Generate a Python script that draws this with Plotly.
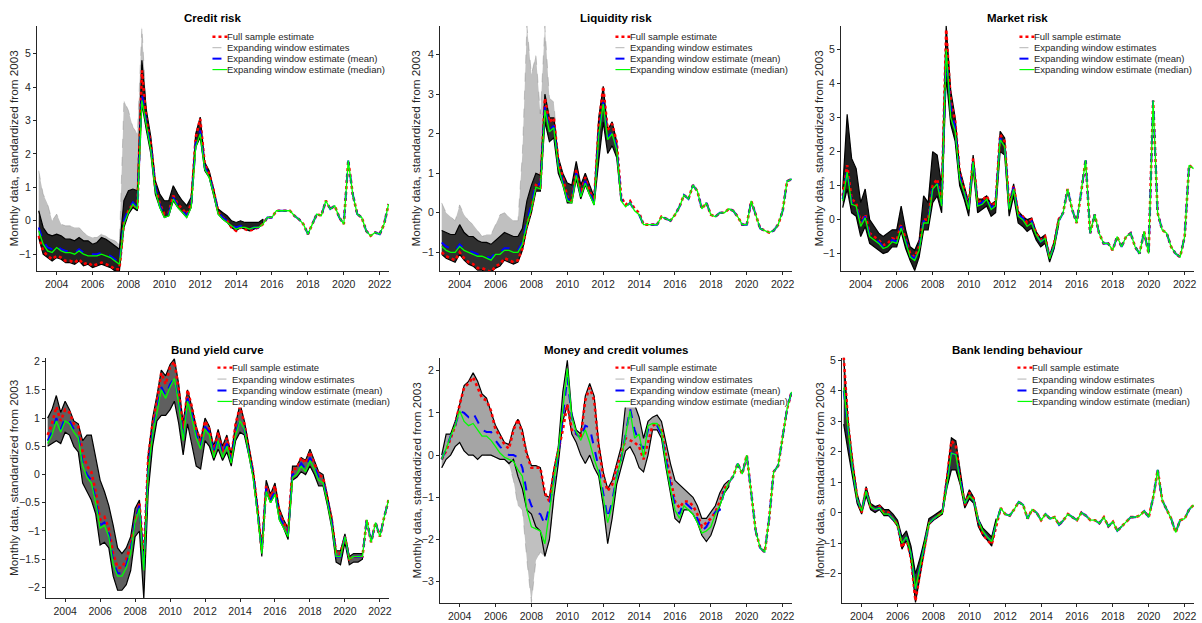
import pandas as pd
import plotly.graph_objects as go
from plotly.subplots import make_subplots

# quarterly observation dates, Jan 2003 .. Jul 2022
dates = list(pd.date_range("2003-01-01", "2022-07-01", freq="QS").strftime("%Y-%m-%d"))

titles = ["Credit risk", "Liquidity risk", "Market risk",
          "Bund yield curve", "Money and credit volumes", "Bank lending behaviour"]
year_ticks = ["%d-01-01" % y for y in range(2004, 2023, 2)]
year_labels = [str(y) for y in range(2004, 2023, 2)]
legend_labels = ["Full sample estimate", "Expanding window estimates",
                 "Expanding window estimate (mean)", "Expanding window estimate (median)"]

# ---------------- Credit risk ----------------
credit_full = [-0.45, -0.9, -1.05, -1.15, -1.05, -1.1, -1.2, -1.2, -1.25, -1.15, -1.3, -1.25,
               -1.35, -1.3, -1.25, -1.3, -1.35, -1.45, -1.45, -0.05, 0.3, 0.5, 0.35, 4.5,
               3.0, 2.3, 1.0, 0.5, 0.2, 0.25, 0.75, 0.5, 0.35, 0.2, 0.5, 2.5,
               3.05, 1.7, 1.4, 0.9, 0.25, 0.1, 0.0, -0.2, -0.3, -0.2, -0.25, -0.3,
               -0.25, -0.2, -0.1, 0.1, 0.1, 0.3, 0.3, 0.3, 0.3, 0.15, 0.05, -0.1,
               -0.4, -0.1, 0.2, 0.15, 0.6, 0.35, 0.45, 0.1, -0.1, 1.8, 0.8, 0.2,
               0.1, -0.3, -0.45, -0.35, -0.4, -0.1, 0.5]
credit_mean = [-0.2, -0.6, -0.8, -0.85, -0.75, -0.85, -0.9, -0.9, -0.95, -0.85, -0.95, -1.0,
               -1.0, -1.0, -0.95, -1.0, -1.05, -1.15, -1.25, 0.0, 0.35, 0.55, 0.4, 3.8,
               2.9, 2.2, 1.0, 0.45, 0.15, 0.2, 0.7, 0.45, 0.3, 0.15, 0.45, 2.3,
               2.7, 1.6, 1.35, 0.85, 0.25, 0.1, 0.0, -0.15, -0.2, -0.15, -0.2, -0.25,
               -0.2] + credit_full[49:]
credit_median = [-0.3, -0.7, -0.9, -0.95, -0.8, -0.9, -0.95, -0.95, -1.0, -0.9, -1.0, -1.05,
                 -1.05, -1.05, -1.0, -1.05, -1.1, -1.2, -1.3, -0.1, 0.25, 0.5, 0.35, 3.6,
                 2.8, 2.1, 0.9, 0.4, 0.1, 0.15, 0.65, 0.4, 0.25, 0.1, 0.4, 2.2,
                 2.6, 1.55, 1.3, 0.8, 0.2, 0.05, -0.05, -0.15, -0.25, -0.2, -0.2, -0.25,
                 -0.2] + credit_full[49:]
credit_lo = [-0.5, -1.0, -1.1, -1.2, -1.1, -1.15, -1.25, -1.25, -1.3, -1.2, -1.35, -1.3,
             -1.4, -1.35, -1.3, -1.35, -1.4, -1.5, -1.5, -0.2, 0.2, 0.4, 0.3, 3.5,
             2.7, 2.0, 0.8, 0.4, 0.1, 0.15, 0.6, 0.4, 0.25, 0.1, 0.4, 2.2,
             2.5, 1.5, 1.3, 0.8, 0.2, 0.05, -0.05, -0.2, -0.3, -0.2, -0.25, -0.3,
             -0.25, -0.2, -0.1]
credit_hi = [0.3, -0.2, -0.4, -0.45, -0.4, -0.45, -0.55, -0.55, -0.6, -0.5, -0.6, -0.6,
             -0.7, -0.65, -0.5, -0.55, -0.65, -0.75, -0.85, 0.6, 0.9, 0.95, 0.9, 4.8,
             3.3, 2.5, 1.2, 0.8, 0.6, 0.6, 1.05, 0.8, 0.6, 0.45, 0.7, 2.6,
             3.1, 1.75, 1.5, 0.95, 0.35, 0.25, 0.15, 0.0, -0.05, 0.0, -0.05, -0.05,
             -0.05, -0.05, 0.05]
credit_spread_hi = [1.5, 0.8, 0.5, 0.0, 0.2, -0.1, -0.15, -0.15, -0.2, -0.2, -0.35, -0.45,
                    -0.5, -0.5, -0.4, -0.45, -0.55, -0.6, -0.7, 3.6, 3.3, 2.8, 2.6, 5.8,
                    3.3]
credit_spread_lo = None

# ---------------- Liquidity risk ----------------
liq_full = [-1.0, -1.1, -1.15, -1.2, -1.0, -1.15, -1.25, -1.3, -1.4, -1.4, -1.45, -1.5,
            -1.35, -1.3, -1.15, -1.2, -1.25, -1.2, -0.9, -0.3, 0.1, 0.7, 0.65, 2.9,
            2.3, 2.4, 1.3, 0.9, 0.4, 0.3, 1.1, 0.5, 0.9, 0.55, 0.3, 2.2,
            3.2, 2.1, 2.25, 1.8, 0.4, 0.2, 0.3, 0.1, 0.0, -0.3, -0.3, -0.3,
            -0.3, -0.1, -0.15, -0.2, -0.05, 0.15, 0.45, 0.35, 0.7, 0.55, 0.1, 0.25,
            -0.05, -0.1, 0.0, 0.0, 0.1, 0.05, -0.1, -0.3, -0.3, 0.3, -0.05, -0.4,
            -0.45, -0.5, -0.45, -0.3, 0.05, 0.8, 0.85]
liq_mean = [-0.75, -0.85, -0.9, -0.95, -0.8, -0.9, -0.95, -1.0, -1.05, -1.05, -1.1, -1.15,
            -1.0, -1.0, -0.9, -0.9, -0.95, -0.95, -0.75, -0.2, 0.2, 0.75, 0.7, 2.7,
            2.1, 2.2, 1.2, 0.8, 0.35, 0.3, 1.0, 0.45, 0.8, 0.5, 0.25, 2.0,
            2.8, 1.9, 2.05, 1.65, 0.35, 0.15, 0.25, 0.05, -0.05] + liq_full[45:]
liq_median = [-0.85, -0.95, -1.0, -1.0, -0.85, -0.95, -1.0, -1.05, -1.1, -1.1, -1.15, -1.2,
              -1.05, -1.05, -0.95, -0.95, -1.0, -1.0, -0.8, -0.3, 0.1, 0.65, 0.6, 2.6,
              2.05, 2.15, 1.15, 0.75, 0.3, 0.25, 0.95, 0.4, 0.75, 0.45, 0.2, 1.95,
              2.75, 1.85, 2.0, 1.6, 0.3, 0.15, 0.25, 0.05, -0.05] + liq_full[45:]
liq_lo = [-1.05, -1.15, -1.2, -1.25, -1.05, -1.2, -1.3, -1.35, -1.45, -1.45, -1.5, -1.5,
          -1.4, -1.35, -1.2, -1.25, -1.3, -1.25, -0.95, -0.4, 0.0, 0.55, 0.55, 2.3,
          1.8, 1.9, 1.0, 0.7, 0.25, 0.25, 0.85, 0.35, 0.7, 0.45, 0.2, 1.3,
          2.3, 1.5, 1.7, 1.4, 0.3]
liq_hi = [-0.45, -0.5, -0.55, -0.55, -0.3, -0.5, -0.6, -0.6, -0.7, -0.75, -0.75, -0.8,
          -0.7, -0.6, -0.5, -0.55, -0.6, -0.6, -0.4, 0.3, 0.7, 1.0, 0.95, 3.0,
          2.4, 2.4, 1.4, 1.0, 0.75, 0.7, 1.3, 0.7, 1.0, 0.7, 0.4, 2.4,
          3.2, 2.1, 2.3, 1.8, 0.4]
liq_spread_hi = [0.25, 0.0, -0.1, -0.2, 0.2, -0.05, -0.2, -0.3, -0.45, -0.6, -0.55, -0.55,
                 -0.3, -0.05, 0.0, -0.1, -0.2, -0.2, 1.5, 4.73, 3.5, 4.0, 2.5, 4.73,
                 2.9, 2.8, 1.5]
liq_spread_lo = None

# ---------------- Market risk ----------------
mkt_full = [0.7, 1.6, 0.6, 0.5, -0.1, 0.15, -0.4, -0.5, -0.6, -0.75, -0.7, -0.55,
            -0.6, -0.15, -0.6, -1.0, -1.1, -0.8, 0.0, 0.0, 1.0, 1.2, 0.5, 5.6,
            3.5, 2.9, 1.4, 0.9, 0.4, 1.8, 0.5, 0.55, 0.7, 0.4, 0.5, 2.5,
            2.3, 0.4, 1.0, 0.2, 0.1, -0.1, 0.0, -0.4, -0.6, -0.5, -1.1, -0.7,
            0.0, 0.2, 0.9, 0.3, -0.1, 0.8, 1.75, -0.4, 0.15, -0.4, -0.7, -0.7,
            -0.9, -0.5, -0.8, -0.5, -0.4, -0.8, -1.0, -0.35, -1.0, 3.5, 0.2, -0.3,
            -0.4, -0.8, -1.0, -1.1, -0.5, 1.6, 1.5]
mkt_mean = [0.6, 1.45, 0.5, 0.45, -0.15, 0.1, -0.45, -0.55, -0.65, -0.8, -0.75, -0.6,
            -0.65, -0.2, -0.65, -1.05, -1.15, -0.85, -0.05, -0.05, 0.95, 1.1, 0.45, 4.8,
            3.3, 2.7, 1.3, 0.85, 0.35, 1.75, 0.45, 0.5, 0.65, 0.35, 0.45, 2.4,
            2.2, 0.35, 0.95, 0.15, 0.05, -0.15, -0.05, -0.45, -0.65, -0.55, -1.15, -0.75,
            -0.05] + mkt_full[49:]
mkt_median = [0.55, 1.4, 0.45, 0.4, -0.2, 0.05, -0.5, -0.6, -0.7, -0.85, -0.8, -0.65,
              -0.7, -0.25, -0.7, -1.1, -1.2, -0.9, -0.1, -0.1, 0.9, 1.05, 0.4, 5.0,
              3.0, 2.6, 1.2, 0.8, 0.3, 1.7, 0.4, 0.45, 0.6, 0.3, 0.4, 2.35,
              2.15, 0.3, 0.9, 0.1, 0.0, -0.2, -0.1, -0.45, -0.65, -0.55, -1.15, -0.75,
              -0.05] + mkt_full[49:]
mkt_lo = [0.35, 0.9, 0.2, 0.1, -0.5, -0.2, -0.7, -0.8, -0.9, -1.0, -0.95, -0.8,
          -0.8, -0.35, -0.85, -1.2, -1.5, -1.1, -0.3, -0.3, 0.5, 0.7, 0.2, 4.2,
          2.8, 2.3, 1.0, 0.6, 0.1, 1.5, 0.2, 0.3, 0.4, 0.1, 0.2, 2.0,
          1.9, 0.1, 0.7, -0.1, -0.2, -0.35, -0.25, -0.6, -0.8, -0.7, -1.25, -0.85,
          -0.15]
mkt_hi = [0.9, 3.1, 1.8, 1.5, 0.5, 0.9, 0.0, -0.2, -0.4, -0.5, -0.4, -0.3,
          -0.3, 0.4, -0.3, -0.8, -0.9, -0.6, 0.7, 0.5, 2.0, 1.9, 1.0, 5.7,
          3.8, 3.0, 1.5, 1.0, 0.5, 1.9, 0.6, 0.6, 0.7, 0.45, 0.55, 2.6,
          2.4, 0.45, 1.05, 0.25, 0.1, 0.0, 0.05, -0.35, -0.55, -0.45, -1.05, -0.65,
          0.05]
mkt_spread_hi = None
mkt_spread_lo = None

# ---------------- Bund yield curve ----------------
bund_full = [0.7, 0.9, 1.2, 0.95, 1.15, 1.1, 0.9, 0.85, 0.4, 0.15, 0.05, -0.3,
             -0.8, -0.75, -0.95, -1.4, -1.65, -1.65, -1.5, -1.25, -0.85, -0.5, -1.5, 0.3,
             0.9, 1.3, 1.8, 1.6, 1.9, 2.0, 1.5, 0.8, 1.5, 1.2, 0.8, 0.6,
             0.95, 0.8, 0.4, 0.75, 0.4, 0.65, 0.3, 0.9, 1.2, 0.9, 0.45, 0.05,
             -0.6, -1.35, -0.2, -0.4, -0.2, -0.65, -0.85, -1.0, 0.1, 0.1, 0.3, 0.2,
             0.4, 0.2, 0.0, -0.05, -0.4, -0.8, -1.4, -1.4, -1.1, -1.5, -1.45, -1.45,
             -1.45, -0.8, -1.2, -0.85, -1.1, -0.75, -0.45]
bund_mean = [0.6, 0.75, 1.0, 0.8, 1.0, 0.95, 0.8, 0.7, 0.2, 0.0, -0.1, -0.45,
             -0.9, -0.85, -1.05, -1.55, -1.75, -1.75, -1.6, -1.35, -0.8, -0.55, -1.65, 0.1,
             0.75, 1.15, 1.55, 1.4, 1.6, 1.7, 1.3, 0.65, 1.35, 1.05, 0.7, 0.5,
             0.85, 0.75, 0.35, 0.65, 0.35, 0.55, 0.25, 0.75, 0.95, 0.8, 0.4, 0.0,
             -0.65, -1.35, -0.25, -0.45, -0.3, -0.75, -0.9, -1.05, 0.0, 0.05, 0.2, 0.1,
             0.3, 0.15, -0.05, -0.1, -0.45, -0.85, -1.45, -1.45, -1.1, -1.5, -1.45, -1.45,
             -1.45] + bund_full[73:]
bund_median = [0.55, 0.7, 0.95, 0.75, 0.95, 0.9, 0.75, 0.65, 0.15, -0.05, -0.15, -0.5,
               -0.95, -0.9, -1.1, -1.6, -1.8, -1.8, -1.65, -1.4, -0.85, -0.6, -1.7, 0.05,
               0.7, 1.1, 1.5, 1.35, 1.55, 1.7, 1.25, 0.6, 1.3, 1.0, 0.65, 0.45,
               0.8, 0.7, 0.3, 0.6, 0.3, 0.5, 0.2, 0.7, 0.95, 0.8, 0.35, -0.05,
               -0.7, -1.4, -0.3, -0.5, -0.35, -0.8, -0.95, -1.1, -0.05, 0.0, 0.15, 0.05,
               0.25, 0.1, -0.1, -0.15, -0.5, -0.9, -1.45, -1.45, -1.1, -1.5, -1.45, -1.45,
               -1.45] + bund_full[73:]
bund_lo = [0.5, 0.55, 0.6, 0.55, 0.75, 0.7, 0.5, 0.4, -0.15, -0.3, -0.45, -0.7,
           -1.25, -1.2, -1.3, -1.8, -2.05, -2.05, -1.95, -1.7, -1.1, -1.0, -2.2, -0.3,
           0.5, 0.95, 1.05, 1.05, 1.15, 1.3, 0.9, 0.35, 0.9, 0.5, 0.15, 0.1,
           0.6, 0.5, 0.25, 0.45, 0.25, 0.4, 0.15, 0.6, 0.75, 0.7, 0.35, -0.05,
           -0.7, -1.45, -0.3, -0.5, -0.35, -0.8, -0.95, -1.15, -0.1, -0.05, 0.05, 0.0,
           0.15, 0.0, -0.2, -0.2, -0.55, -0.95, -1.55, -1.6, -1.2, -1.6, -1.55, -1.55,
           -1.5]
bund_hi = [1.0, 1.15, 1.4, 1.1, 1.3, 1.15, 0.95, 0.9, 0.6, 0.7, 0.7, 0.3,
           -0.1, -0.3, -0.55, -0.9, -1.3, -1.4, -1.3, -1.1, -0.6, -0.45, -1.5, 0.35,
           1.0, 1.4, 1.85, 1.75, 1.95, 2.05, 1.6, 0.9, 1.5, 1.2, 0.85, 0.6,
           1.0, 0.85, 0.5, 0.8, 0.5, 0.7, 0.35, 0.9, 1.25, 0.95, 0.5, 0.1,
           -0.55, -1.3, -0.1, -0.35, -0.15, -0.6, -0.8, -0.95, 0.15, 0.15, 0.3, 0.25,
           0.45, 0.25, 0.05, 0.0, -0.35, -0.75, -1.35, -1.35, -1.05, -1.45, -1.4, -1.4,
           -1.4]
bund_spread_hi = None
bund_spread_lo = None

# ---------------- Money and credit volumes ----------------
money_full = [-0.1, 0.1, 0.4, 0.7, 1.2, 1.6, 1.7, 1.85, 1.6, 1.35, 1.3, 1.05,
              0.6, 0.45, 0.25, 0.15, 0.6, 0.85, 0.5, 0.0, -0.3, -0.3, -0.3, -0.9,
              -1.1, -0.4, 0.1, 0.6, 1.2, 0.6, 0.5, 0.45, 1.3, 1.6, 1.3, 0.2,
              -0.5, -0.85, -0.7, -0.3, 0.0, 0.4, 0.35, 0.3, 0.2, -0.1, 0.3, 0.7,
              0.75, 0.6, 0.0, -0.6, -1.1, -1.25, -1.1, -1.1, -1.2, -1.4, -1.7, -1.6,
              -1.5, -1.35, -1.1, -0.8, -0.65, -0.5, -0.2, -0.45, 0.0, -0.9, -1.8, -2.2,
              -2.3, -1.5, -0.4, -0.25, 0.4, 1.1, 1.5]
money_mean = [-0.1, 0.15, 0.45, 0.7, 1.05, 1.0, 0.9, 1.0, 0.8, 0.6, 0.55, 0.55,
              0.35, 0.2, 0.1, 0.0, 0.0, -0.05, -0.3, -0.9, -1.2, -1.35, -1.4, -1.65,
              -1.2, -0.6, 0.0, 0.9, 1.85, 0.9, 0.5, 0.4, 0.7, 0.65, 0.2, -0.3,
              -0.9, -1.5, -1.1, -0.5, -0.1, 0.5, 1.1, 0.6, 0.3, 0.15, 0.6, 0.7,
              0.7, 0.5, -0.1, -0.7, -1.2, -1.4, -1.1, -1.2, -1.3, -1.5, -1.8, -1.7,
              -1.5, -1.35, -1.3, -0.85] + money_full[64:]
money_median = [-0.1, 0.15, 0.45, 0.7, 1.05, 0.8, 0.7, 0.75, 0.6, 0.45, 0.45, 0.35,
                0.2, 0.05, -0.05, -0.1, -0.15, -0.35, -0.5, -1.3, -1.7, -1.75, -1.8, -2.1,
                -1.3, -0.6, 0.1, 1.1, 2.05, 0.9, 0.55, 0.35, 0.6, 0.3, -0.1, -0.4,
                -1.0, -1.6, -1.2, -0.5, -0.1, 0.5, 1.05, 0.4, 0.5, -0.05, 0.7, 0.75,
                0.75, 0.55, -0.2, -0.8, -1.3, -1.5, -1.2, -1.3, -1.4, -1.6, -1.85, -1.8,
                -1.7, -1.4, -1.2, -0.9] + money_full[64:]
money_lo = [-0.3, -0.1, 0.0, 0.2, 0.3, 0.1, 0.0, 0.0, -0.1, 0.0, 0.0, 0.0,
            -0.05, -0.1, -0.1, -0.2, -0.1, -0.5, -0.8, -1.3, -1.4, -1.7, -1.8, -2.4,
            -2.0, -1.0, -0.2, 0.8, 1.2, 0.5, 0.3, 0.0, -0.2, 0.0, -0.3, -0.5,
            -1.2, -2.1, -1.5, -0.7, -0.3, 0.1, 0.2, 0.0, -0.3, -0.4, 0.0, 0.6,
            0.6, 0.4, -0.3, -0.9, -1.5, -1.6, -1.3, -1.3, -1.4, -1.6, -1.9, -2.05,
            -1.9, -1.6, -1.2, -0.9, -0.75]
money_hi = [0.0, 0.5, 0.5, 0.8, 1.2, 1.65, 1.75, 1.95, 1.75, 1.45, 1.35, 1.05,
            0.7, 0.5, 0.3, 0.25, 0.65, 0.85, 0.6, 0.05, -0.25, -0.25, -0.3, -0.95,
            -1.0, -0.35, 0.2, 1.5, 2.25, 1.0, 0.6, 0.5, 1.4, 1.7, 1.4, 0.3,
            -0.4, -0.8, -0.6, -0.2, 0.2, 1.2, 1.2, 1.2, 0.9, 0.4, 0.8, 0.9,
            0.95, 0.8, 0.3, -0.2, -0.6, -0.7, -0.8, -0.9, -1.0, -1.2, -1.5, -1.5,
            -1.35, -1.2, -0.9, -0.7, -0.6]
money_spread_hi = None
money_spread_lo = [-0.3, -0.1, 0.0, 0.2, 0.3, 0.1, 0.0, 0.0, -0.1, 0.0, 0.0, 0.0,
                   -0.05, -0.1, -0.1, -0.2, -0.6, -1.2, -1.3, -2.5, -3.5, -2.5, -2.3, -2.4,
                   -2.0, -1.0]

# ---------------- Bank lending behaviour ----------------
bank_full = [5.1, 2.9, 1.6, 0.5, 0.0, 0.8, 0.2, 0.1, 0.2, 0.0, 0.0, -0.2,
             -0.4, -1.15, -0.85, -1.5, -2.9, -2.0, -1.2, -0.35, -0.2, -0.1, 0.0, 1.1,
             2.35, 2.2, 1.1, 0.25, 0.65, 0.45, -0.3, -0.7, -0.9, -1.05, -0.4, 0.15,
             -0.05, -0.1, 0.1, 0.35, 0.25, -0.2, 0.1, 0.0, -0.25, -0.05, -0.2, -0.15,
             -0.4, -0.25, -0.05, -0.15, -0.25, 0.0, -0.1, -0.25, -0.25, -0.35, -0.15, -0.45,
             -0.3, -0.6, -0.45, -0.3, -0.15, -0.15, -0.1, 0.05, -0.15, 0.5, 1.4, 0.4,
             0.1, -0.2, -0.65, -0.25, -0.2, 0.1, 0.25]
bank_mean = [4.0, 2.6, 1.4, 0.45, 0.05, 0.7, 0.2, 0.1, 0.15, -0.05, -0.05, -0.2,
             -0.4, -1.0, -0.8, -1.35, -2.5, -1.8, -1.1, -0.35, -0.2, -0.1, 0.0, 0.95,
             1.95, 1.9, 1.05, 0.3, 0.55, 0.4, -0.25, -0.6, -0.8, -0.95, -0.35, 0.15] + bank_full[36:]
bank_median = [4.1, 2.65, 1.4, 0.45, 0.05, 0.7, 0.2, 0.1, 0.15, -0.05, -0.05, -0.2,
               -0.4, -1.0, -0.8, -1.35, -2.5, -1.8, -1.1, -0.35, -0.2, -0.1, 0.0, 0.9,
               1.95, 1.9, 1.0, 0.3, 0.55, 0.4, -0.25, -0.6, -0.8, -0.95, -0.35, 0.15] + bank_full[36:]
bank_lo = [2.9, 2.0, 1.1, 0.3, -0.05, 0.55, 0.1, 0.0, 0.1, -0.1, -0.1, -0.25,
           -0.45, -1.2, -0.9, -1.55, -2.95, -2.1, -1.25, -0.4, -0.25, -0.15, -0.05, 0.8,
           1.4, 1.4, 0.9, 0.15, 0.45, 0.3, -0.45, -0.75, -0.9, -1.1, -0.35]
bank_hi = [5.1, 3.0, 1.7, 0.6, 0.1, 0.85, 0.3, 0.2, 0.25, 0.1, 0.1, -0.05,
           -0.25, -0.8, -0.6, -1.1, -2.0, -1.5, -0.9, -0.2, -0.1, 0.0, 0.1, 1.2,
           2.45, 2.35, 1.3, 0.35, 0.75, 0.5, -0.2, -0.5, -0.65, -0.8, -0.2]
bank_spread_hi = None
bank_spread_lo = None

panels = [
    (credit_full, credit_mean, credit_median, credit_lo, credit_hi, credit_spread_hi, credit_spread_lo),
    (liq_full, liq_mean, liq_median, liq_lo, liq_hi, liq_spread_hi, liq_spread_lo),
    (mkt_full, mkt_mean, mkt_median, mkt_lo, mkt_hi, mkt_spread_hi, mkt_spread_lo),
    (bund_full, bund_mean, bund_median, bund_lo, bund_hi, bund_spread_hi, bund_spread_lo),
    (money_full, money_mean, money_median, money_lo, money_hi, money_spread_hi, money_spread_lo),
    (bank_full, bank_mean, bank_median, bank_lo, bank_hi, bank_spread_hi, bank_spread_lo),
]

# layout (pixel boxes of each axes, MATLAB-like subplot placement)
W, H = 1202, 623
boxes = [(37, 390, 22, 269), (441, 794, 22, 269), (843, 1197, 22, 269),
         (46, 390, 356, 598), (441, 794, 356, 603), (844, 1197, 356, 603)]
ytitle_x = [14, 417, 821, 14, 417, 821]
yranges = [(-1.51, 5.83), (-1.48, 4.73), (-1.52, 5.70), (-2.19, 2.07), (-3.51, 2.31), (-2.97, 5.08)]
ytickvals = [list(range(-1, 6)), list(range(-1, 5)), list(range(-1, 6)),
             [-2, -1.5, -1, -0.5, 0, 0.5, 1, 1.5, 2], list(range(-3, 3)), list(range(-2, 6))]
band_fill = ["rgba(15,15,15,0.92)", "rgba(25,25,25,0.9)", "rgba(15,15,15,0.92)",
             "rgba(55,55,55,0.8)", "rgba(105,105,105,0.6)", "rgba(30,30,30,0.9)"]
leg_x0 = [213, 617, 1022, 218, 617, 1020]
leg_rows = [[11, 22, 33, 44]] * 3 + [[10, 21.5, 33, 44]] * 3

FONT = "Liberation Sans, Arial, Helvetica, sans-serif"
AXC = "#262626"
spread_fill = "rgba(130,130,130,0.5)"

fig = make_subplots(rows=2, cols=3)
shapes, annotations = [], []

for k, (full, mean, median, lo, hi, sp_hi, sp_lo) in enumerate(panels):
    row, col = k // 3 + 1, k % 3 + 1
    n = len(lo)
    d = dates[:n]
    if sp_hi is not None:
        m = len(sp_hi)
        fig.add_trace(go.Scatter(x=dates[:m] + dates[:m][::-1], y=sp_hi + hi[:m][::-1],
                                 fill="toself", fillcolor=spread_fill,
                                 line=dict(color="rgba(120,120,120,0.6)", width=0.6, dash="dash"),
                                 hoverinfo="skip"), row=row, col=col)
    if sp_lo is not None:
        m = len(sp_lo)
        fig.add_trace(go.Scatter(x=dates[:m] + dates[:m][::-1], y=lo[:m] + sp_lo[::-1],
                                 fill="toself", fillcolor=spread_fill,
                                 line=dict(color="rgba(120,120,120,0.6)", width=0.6, dash="dash"),
                                 hoverinfo="skip"), row=row, col=col)
    fig.add_trace(go.Scatter(x=d + d[::-1], y=hi + lo[::-1], fill="toself",
                             fillcolor=band_fill[k], line=dict(color="black", width=1.2),
                             hoverinfo="skip"), row=row, col=col)
    fig.add_trace(go.Scatter(x=dates, y=full, mode="lines",
                             line=dict(color="#ff0000", width=2.6, dash="dot")), row=row, col=col)
    fig.add_trace(go.Scatter(x=dates, y=mean, mode="lines",
                             line=dict(color="#0000ff", width=2, dash="dash")), row=row, col=col)
    fig.add_trace(go.Scatter(x=dates, y=median, mode="lines",
                             line=dict(color="#00ff00", width=1.3)), row=row, col=col)

    l, r, t, b = boxes[k]
    sfx = "" if k == 0 else str(k + 1)
    fig.update_layout(**{
        "xaxis" + sfx: dict(domain=[l / W, r / W], type="date",
                            range=["2002-11-25", "2022-07-10"],
                            tickvals=year_ticks, ticktext=year_labels,
                            ticks="outside", ticklen=3, tickcolor=AXC,
                            showline=True, linecolor=AXC, linewidth=1,
                            showgrid=False, zeroline=False,
                            tickfont=dict(family=FONT, size=10.5, color=AXC)),
        "yaxis" + sfx: dict(domain=[1 - b / H, 1 - t / H], range=list(yranges[k]),
                            tickvals=ytickvals[k],
                            ticks="outside", ticklen=3, tickcolor=AXC,
                            showline=True, linecolor=AXC, linewidth=1,
                            showgrid=False, zeroline=False,
                            tickfont=dict(family=FONT, size=10.5, color=AXC)),
    })

    xd, yd = "x%s domain" % sfx, "y%s domain" % sfx
    wpx, hpx = r - l, b - t
    annotations.append(dict(text="<b>%s</b>" % titles[k], xref=xd, yref=yd, x=0.5, y=1,
                            yshift=8, showarrow=False, xanchor="center", yanchor="middle",
                            font=dict(family=FONT, size=11.5, color="black")))
    annotations.append(dict(text="Monthly data, standardized from 2003", textangle=-90,
                            xref="paper", yref="paper", x=ytitle_x[k] / W,
                            y=1 - (t + b) / 2 / H, showarrow=False,
                            xanchor="center", yanchor="middle",
                            font=dict(family=FONT, size=11.7, color=AXC)))
    # legend drawn inside the axes, MATLAB style
    rows = leg_rows[k]
    sx0 = (leg_x0[k] - l) / wpx
    sx1 = (leg_x0[k] + 15 - l) / wpx
    shapes.append(dict(type="rect", xref=xd, yref=yd, layer="above",
                       x0=(leg_x0[k] - 2 - l) / wpx, x1=(r - 5 - l) / wpx,
                       y0=1 - (rows[-1] + 6) / hpx, y1=1 - 3 / hpx,
                       fillcolor="white", line=dict(width=0)))
    styles = [("#ff0000", "dot", 2.4), ("#b4b4b4", "dash", 1.0),
              ("#0000ff", "dash", 2.0), ("#00ff00", "solid", 1.2)]
    for j, (lab, (c, ds, w)) in enumerate(zip(legend_labels, styles)):
        yy = 1 - rows[j] / hpx
        shapes.append(dict(type="line", xref=xd, yref=yd, layer="above",
                           x0=sx0, x1=sx1, y0=yy, y1=yy, line=dict(color=c, dash=ds, width=w)))
        annotations.append(dict(text=lab, xref=xd, yref=yd, x=sx1, y=yy, showarrow=False,
                                xanchor="left", yanchor="middle", xshift=-2,
                                font=dict(family=FONT, size=9.5, color=AXC)))

fig.update_layout(width=W, height=H, margin=dict(l=0, r=0, t=0, b=0),
                  plot_bgcolor="white", paper_bgcolor="white", showlegend=False,
                  shapes=shapes, annotations=annotations)
fig.write_html("out.html", config={"displayModeBar": False},
               post_script="document.body.style.margin='0';")
